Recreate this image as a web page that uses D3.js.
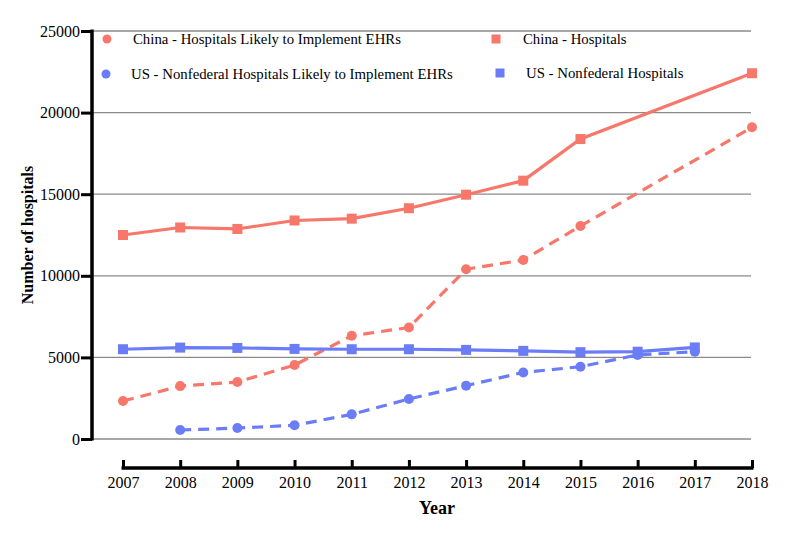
<!DOCTYPE html>
<html>
<head>
<meta charset="utf-8">
<script src="https://cdn.jsdelivr.net/npm/d3@7"></script>
<style>
  html, body { margin: 0; padding: 0; background: #fff; }
  svg { display: block; font-family: "Liberation Serif", "Times New Roman", serif; }
</style>
</head>
<body>
<svg id="chart" width="800" height="537"></svg>
<script>
const years = [2007, 2008, 2009, 2010, 2011, 2012, 2013, 2014, 2015, 2016, 2017, 2018];
const yTicks = [0, 5000, 10000, 15000, 20000, 25000];

const chinaHospitals = [12500, 12960, 12870, 13390, 13500, 14140, 14970, 15830, 18380, null, null, 22410];
const chinaEHR = [2330, 3240, 3490, 4530, 6330, 6830, 10400, 10970, 13050, null, null, 19100];
const usHospitals = [5500, 5600, 5580, 5520, 5500, 5500, 5460, 5400, 5320, 5350, 5610, null];
const usEHR = [null, 550, 670, 840, 1510, 2450, 3270, 4080, 4430, 5150, 5350, null];

const seriesNames = [
  "China - Hospitals Likely to Implement EHRs",
  "China - Hospitals",
  "US - Nonfederal Hospitals Likely to Implement EHRs",
  "US - Nonfederal Hospitals"
];
const red = "#f7776a";
const blue = "#6a7df6";

const svg = d3.select("#chart");
const x = d3.scaleLinear().domain([2007, 2018]).range([123, 752]);
const y = d3.scaleLinear().domain([0, 25000]).range([439, 31]);

// gridlines
svg.append("g").selectAll("line").data(yTicks).join("line")
  .attr("x1", 93).attr("x2", 751)
  .attr("y1", d => y(d)).attr("y2", d => y(d))
  .attr("stroke", "#8a8a8a").attr("stroke-width", 1.3);

// y axis
const yAxis = svg.append("g").attr("transform", "translate(92,0)")
  .call(d3.axisLeft(y).tickValues(yTicks).tickSize(11).tickPadding(1).tickFormat(d3.format("d")));
yAxis.select(".domain").attr("stroke", "#000").attr("stroke-width", 3.5)
  .attr("d", `M0,${y(25000) - 1.5}V${y(0) + 1.5}`);
yAxis.selectAll(".tick line").attr("stroke", "#000").attr("stroke-width", 3);
yAxis.selectAll(".tick text").attr("font-size", 16).attr("fill", "#000")
  .attr("font-family", "Liberation Serif, serif");

// x axis
const xAxis = svg.append("g").attr("transform", "translate(0,468)")
  .call(d3.axisTop(x).tickValues(years).tickSize(8).tickFormat(d3.format("d")));
xAxis.select(".domain").attr("stroke", "#000").attr("stroke-width", 3.5)
  .attr("d", `M${x(2007) - 1.5},0H${x(2018) + 1.5}`);
xAxis.selectAll(".tick line").attr("stroke", "#000").attr("stroke-width", 3);
xAxis.selectAll(".tick text").attr("y", 9).attr("dy", "0.71em")
  .attr("font-size", 16).attr("fill", "#000").attr("font-family", "Liberation Serif, serif");

// axis titles
svg.append("text").attr("x", 437).attr("y", 514).attr("text-anchor", "middle")
  .attr("font-size", 18).attr("font-weight", "bold").text("Year");
svg.append("text").attr("transform", "translate(33,235) rotate(-90)").attr("text-anchor", "middle")
  .attr("font-size", 16).attr("font-weight", "bold").text("Number of hospitals");

// lines
function drawSeries(vals, color, dashed, shape) {
  const pts = years.map((yr, i) => ({ yr, v: vals[i] })).filter(d => d.v !== null);
  const line = d3.line().x(d => x(d.yr)).y(d => y(d.v));
  svg.append("path").datum(pts).attr("d", line)
    .attr("fill", "none").attr("stroke", color).attr("stroke-width", 3.2)
    .attr("stroke-dasharray", dashed ? "11,7" : null);
  const g = svg.append("g");
  if (shape === "circle") {
    g.selectAll("circle").data(pts).join("circle")
      .attr("cx", d => x(d.yr)).attr("cy", d => y(d.v)).attr("r", 5).attr("fill", color);
  } else {
    g.selectAll("rect").data(pts).join("rect")
      .attr("x", d => x(d.yr) - 5).attr("y", d => y(d.v) - 5)
      .attr("width", 10).attr("height", 10).attr("fill", color);
  }
}
drawSeries(chinaHospitals, red, false, "square");
drawSeries(chinaEHR, red, true, "circle");
drawSeries(usHospitals, blue, false, "square");
drawSeries(usEHR, blue, true, "circle");

// legend
const legend = [
  { name: seriesNames[0], color: red, shape: "circle", mx: 107, my: 39, tx: 133 },
  { name: seriesNames[1], color: red, shape: "square", mx: 496, my: 39, tx: 523 },
  { name: seriesNames[2], color: blue, shape: "circle", mx: 106, my: 74, tx: 131 },
  { name: seriesNames[3], color: blue, shape: "square", mx: 500, my: 73, tx: 526 }
];
const lg = svg.append("g");
legend.forEach(d => {
  if (d.shape === "circle") {
    lg.append("circle").attr("cx", d.mx).attr("cy", d.my).attr("r", 4.5).attr("fill", d.color);
  } else {
    lg.append("rect").attr("x", d.mx - 4.5).attr("y", d.my - 4.5).attr("width", 9).attr("height", 9).attr("fill", d.color);
  }
  lg.append("text").attr("x", d.tx).attr("y", d.my).attr("dy", "0.35em")
    .attr("font-size", 14.8).attr("fill", "#000").text(d.name);
});
</script>
</body>
</html>
